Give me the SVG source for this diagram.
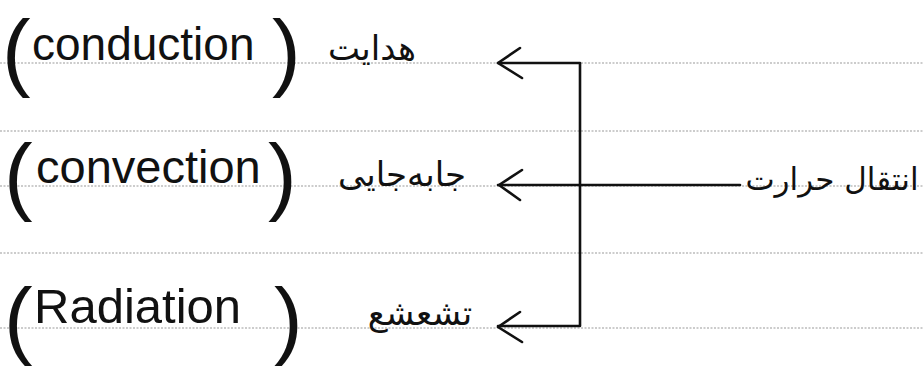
<svg xmlns="http://www.w3.org/2000/svg" width="923" height="374" viewBox="0 0 923 374">
<style>
.rule{stroke:#9a9a9a;stroke-width:1.2;stroke-dasharray:2 1.5;fill:none}
.con{stroke:#111;stroke-width:2.6;fill:none;stroke-linecap:round;stroke-linejoin:round}
.en{font-family:"Liberation Sans","DejaVu Sans",sans-serif;font-size:46px;fill:#111}
.par{font-family:"Liberation Sans","DejaVu Sans",sans-serif;font-size:86px;fill:#111}
.fa{font-family:"DejaVu Sans",sans-serif;font-size:34px;fill:#111;text-anchor:middle}
</style>
<rect width="923" height="374" fill="#fff"/>
<g id="rules">
<line class="rule" x1="0" y1="63" x2="923" y2="63"/>
<line class="rule" x1="0" y1="131" x2="923" y2="131"/>
<line class="rule" x1="0" y1="186" x2="923" y2="186"/>
<line class="rule" x1="0" y1="253" x2="923" y2="253"/>
<line class="rule" x1="0" y1="328" x2="923" y2="328"/>
</g>
<g id="connectors">
<path class="con" d="M740 185 H498"/>
<path class="con" d="M520 48 L498 63 L522 78"/>
<path class="con" d="M522 170 L499 185 L520 200"/>
<path class="con" d="M520 312 L498 327 L522 342"/>
<path class="con" d="M498 63 H580 V326 H498"/>
</g>
<g id="heat-transfer">
<text class="fa" x="832" y="190" style="font-size:31px">انتقال حرارت</text>
</g>
<g id="conduction">
<text class="par" x="2" y="80">(</text>
<text class="en" x="32" y="60">conduction</text>
<text class="par" x="272" y="80">)</text>
<text class="fa" x="372" y="60">هدایت</text>
</g>
<g id="convection">
<text class="par" x="4" y="204">(</text>
<text class="en" x="36" y="183" style="font-size:47px">convection</text>
<text class="par" x="268" y="204">)</text>
<text class="fa" x="402" y="186">جابه‌جایی</text>
</g>
<g id="radiation">
<text class="par" x="4" y="348">(</text>
<text class="en" x="34" y="323" style="font-size:49px">Radiation</text>
<text class="par" x="274" y="348">)</text>
<text class="fa" x="420" y="325">تشعشع</text>
</g>
</svg>
